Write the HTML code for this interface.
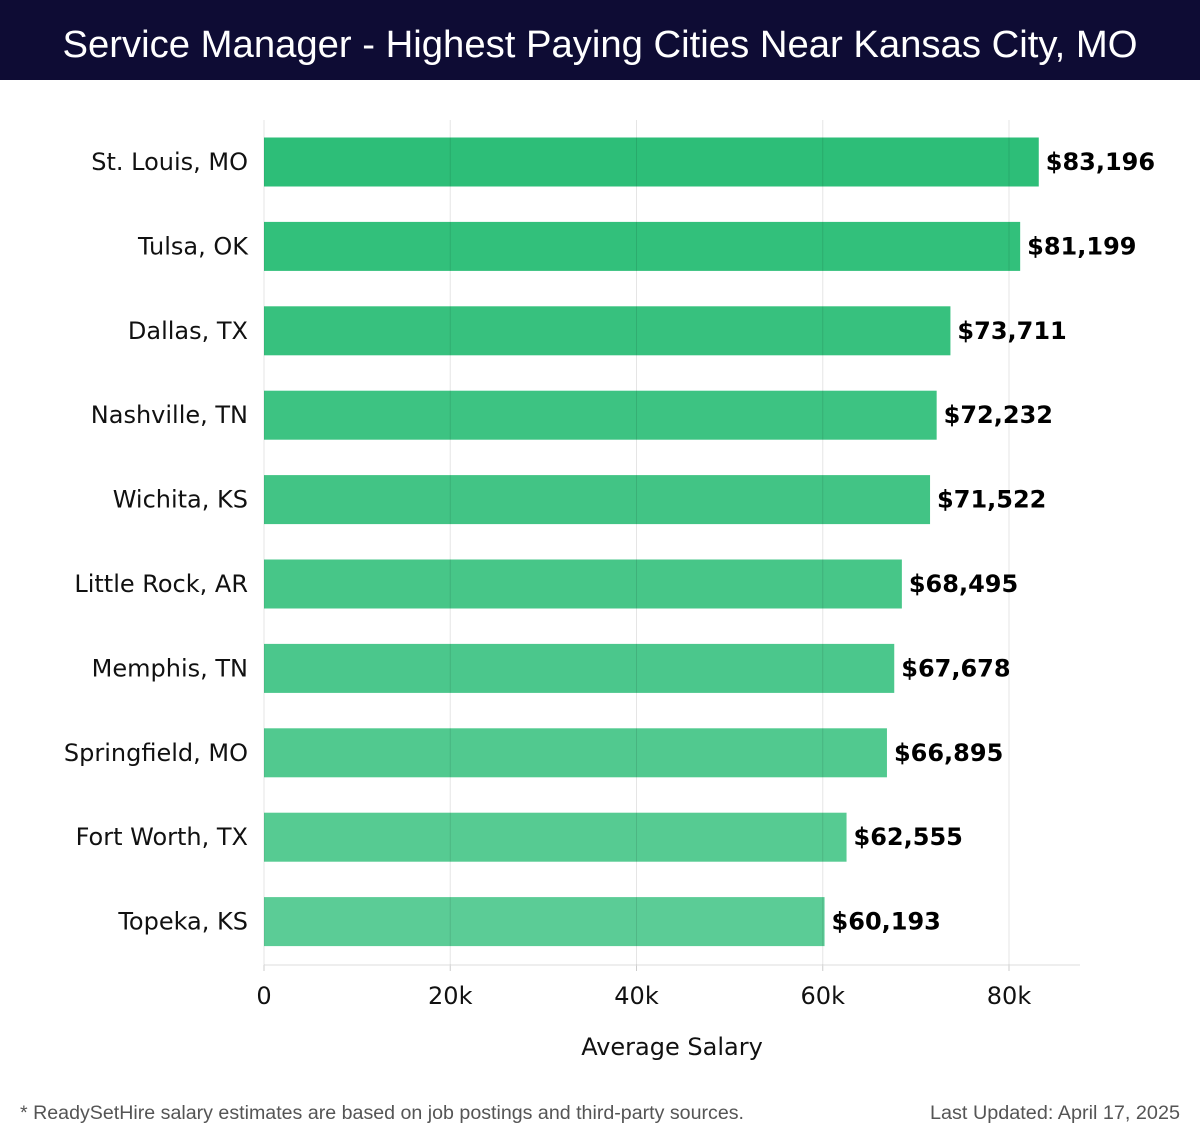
<!DOCTYPE html>
<html><head><meta charset="utf-8"><style>
body{margin:0;background:#fff;}
svg{display:block;}
</style></head><body>
<svg id="chart" width="1200" height="1140" xmlns="http://www.w3.org/2000/svg">
<rect x="0" y="0" width="1200" height="80" fill="#0e0c34"/>
<text x="600" y="57" text-anchor="middle" fill="#fff" font-family="Liberation Sans, sans-serif" font-size="38" textLength="1075" lengthAdjust="spacingAndGlyphs">Service Manager - Highest Paying Cities Near Kansas City, MO</text>
<g id="bars"></g>
<g id="axis"></g>
<text x="672" y="1055" text-anchor="middle" font-family="DejaVu Sans, sans-serif" font-size="24" fill="#111">Average Salary</text>
<text x="20" y="1119" font-family="Liberation Sans, sans-serif" font-size="19" fill="#555" textLength="724" lengthAdjust="spacingAndGlyphs">* ReadySetHire salary estimates are based on job postings and third-party sources.</text>
<text x="1180" y="1119" text-anchor="end" font-family="Liberation Sans, sans-serif" font-size="19" fill="#555" textLength="250" lengthAdjust="spacingAndGlyphs">Last Updated: April 17, 2025</text>
</svg>
<script>
const cities = ["St. Louis, MO","Tulsa, OK","Dallas, TX","Nashville, TN","Wichita, KS","Little Rock, AR","Memphis, TN","Springfield, MO","Fort Worth, TX","Topeka, KS"];
const salaries = [83196,81199,73711,72232,71522,68495,67678,66895,62555,60193];
const tickValues = [0,20000,40000,60000,80000];
const tickLabels = ["0","20k","40k","60k","80k"];

const NS="http://www.w3.org/2000/svg";
const x0=264, pxPer=(1009-264)/80000, plotTop=120, plotBottom=965, rowH=84.4, firstC=162, barH=49;
const xs=v=>x0+v*pxPer;
const yc=i=>firstC+i*rowH;
function mk(tag,attrs,parent){const e=document.createElementNS(NS,tag);for(const k in attrs)e.setAttribute(k,attrs[k]);parent.appendChild(e);return e;}
const bars=document.getElementById('bars'),axis=document.getElementById('axis');
cities.forEach((c,i)=>{
  const op=1-0.22*i/(cities.length-1);
  const r=mk('rect',{x:x0,y:yc(i)-barH/2,width:xs(salaries[i])-x0,height:barH,fill:'#2dbe78','fill-opacity':op},bars);
  
  
  const l=mk('text',{x:248,y:yc(i)+8,'text-anchor':'end','font-family':'DejaVu Sans, sans-serif','font-size':24,fill:'#111'},bars);
  l.textContent=c;
  
  
  const v=mk('text',{x:xs(salaries[i])+7,y:yc(i)+8,'font-family':'DejaVu Sans, sans-serif','font-size':24,'font-weight':'bold',fill:'#000'},bars);
  v.textContent='$'+salaries[i].toLocaleString('en-US');
  
  
});
const gg=mk('g',{},document.getElementById('chart'));
tickValues.forEach((t,i)=>{
  const gl=mk('line',{x1:xs(t),x2:xs(t),y1:plotTop,y2:plotBottom,stroke:'#000','stroke-opacity':0.1,'stroke-width':1},gg);
  
  
  const tk=mk('line',{x1:xs(t),x2:xs(t),y1:plotBottom,y2:plotBottom+6,stroke:'#ccc'},axis);
  
  
  const tl=mk('text',{x:xs(t),y:1004,'text-anchor':'middle','font-family':'DejaVu Sans, sans-serif','font-size':24,fill:'#111'},axis);
  tl.textContent=tickLabels[i];
  
  
});
const ax=mk('line',{x1:x0,x2:1080,y1:plotBottom,y2:plotBottom,stroke:'#ddd'},axis);


</script>
</body></html>
